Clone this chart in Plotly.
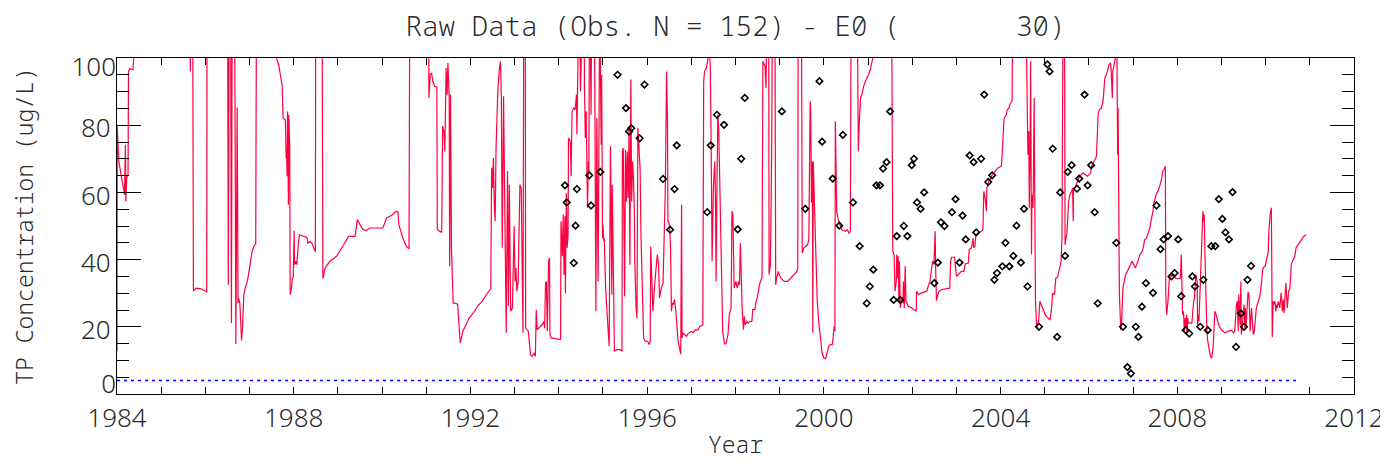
import plotly.graph_objects as go

# ---------------- data ----------------
line_year = [
    1984.00, 1984.005, 1984.04, 1984.14, 1984.17, 1984.19, 1984.20, 1984.22, 1984.25, 1984.26,
    1984.29, 1984.36, 1984.38, 1984.40, 1985.65, 1985.66, 1985.68, 1985.71, 1985.73, 1985.79,
    1985.90, 1985.97, 1986.03, 1986.04, 1986.50, 1986.52, 1986.54, 1986.57, 1986.59, 1986.61,
    1986.66, 1986.69, 1986.72, 1986.74, 1986.75, 1986.78, 1986.80, 1986.82, 1986.84, 1986.87,
    1986.91, 1986.95, 1986.97, 1987.00, 1987.02, 1987.06, 1987.10, 1987.14, 1987.16, 1987.60,
    1987.61, 1987.66, 1987.71, 1987.74, 1987.76, 1987.81, 1987.83, 1987.84, 1987.85, 1987.86,
    1987.88, 1987.89, 1987.91, 1987.92, 1987.95, 1987.97, 1987.99, 1988.01, 1988.02, 1988.05,
    1988.07, 1988.09, 1988.11, 1988.13, 1988.22, 1988.30, 1988.32, 1988.37, 1988.41, 1988.45,
    1988.49, 1988.50, 1988.64, 1988.66, 1988.71, 1988.82, 1988.97, 1989.12, 1989.24, 1989.39,
    1989.44, 1989.50, 1989.57, 1989.65, 1989.72, 1990.02, 1990.10, 1990.21, 1990.32, 1990.36,
    1990.38, 1990.47, 1990.55, 1990.61, 1990.63, 1991.05, 1991.06, 1991.09, 1991.12, 1991.15,
    1991.19, 1991.24, 1991.25, 1991.35, 1991.37, 1991.40, 1991.42, 1991.45, 1991.47, 1991.49,
    1991.52, 1991.53, 1991.55, 1991.57, 1991.61, 1991.71, 1991.77, 1991.83, 1991.90, 1991.97,
    1992.09, 1992.16, 1992.27, 1992.35, 1992.46, 1992.48, 1992.50, 1992.52, 1992.54, 1992.56,
    1992.58, 1992.60, 1992.62, 1992.65, 1992.68, 1992.70, 1992.72, 1992.75, 1992.78, 1992.81,
    1992.84, 1992.86, 1992.88, 1992.91, 1992.95, 1992.99, 1993.01, 1993.03, 1993.05, 1993.08,
    1993.12, 1993.15, 1993.19, 1993.21, 1993.24, 1993.25, 1993.31, 1993.36, 1993.40, 1993.44,
    1993.47, 1993.49, 1993.51, 1993.55, 1993.62, 1993.66, 1993.68, 1993.70, 1993.72, 1993.74,
    1993.76, 1993.77, 1993.79, 1993.80, 1993.83, 1993.92, 1994.04, 1994.05, 1994.08, 1994.10,
    1994.12, 1994.14, 1994.15, 1994.17, 1994.19, 1994.21, 1994.22, 1994.26, 1994.28, 1994.30,
    1994.34, 1994.37, 1994.40, 1994.41, 1994.43, 1994.45, 1994.47, 1994.49, 1994.51, 1994.57,
    1994.58, 1994.60, 1994.62, 1994.63, 1994.65, 1994.67, 1994.68, 1994.70, 1994.73, 1994.75,
    1994.80, 1994.83, 1994.84, 1994.86, 1994.88, 1994.89, 1994.91, 1994.93, 1994.94, 1994.96,
    1994.97, 1994.99, 1995.00, 1995.02, 1995.03, 1995.06, 1995.11, 1995.14, 1995.17, 1995.20,
    1995.21, 1995.24, 1995.26, 1995.31, 1995.39, 1995.43, 1995.44, 1995.46, 1995.49, 1995.51,
    1995.53, 1995.55, 1995.57, 1995.59, 1995.61, 1995.63, 1995.65, 1995.67, 1995.69, 1995.71,
    1995.72, 1995.75, 1995.77, 1995.79, 1995.81, 1995.84, 1995.86, 1995.89, 1995.92, 1995.95,
    1996.01, 1996.05, 1996.07, 1996.08, 1996.11, 1996.13, 1996.17, 1996.21, 1996.23, 1996.25,
    1996.26, 1996.28, 1996.32, 1996.36, 1996.40, 1996.41, 1996.43, 1996.44, 1996.46, 1996.47,
    1996.49, 1996.51, 1996.53, 1996.55, 1996.57, 1996.59, 1996.61, 1996.62, 1996.65, 1996.68,
    1996.70, 1996.74, 1996.76, 1996.78, 1996.79, 1996.81, 1996.85, 1996.89, 1996.92, 1997.00,
    1997.04, 1997.08, 1997.15, 1997.19, 1997.26, 1997.28, 1997.30, 1997.34, 1997.38, 1997.40,
    1997.41, 1997.42, 1997.43, 1997.45, 1997.47, 1997.50, 1997.53, 1997.55, 1997.56, 1997.58,
    1997.60, 1997.62, 1997.65, 1997.68, 1997.71, 1997.75, 1997.79, 1997.83, 1997.86, 1997.90,
    1997.92, 1997.94, 1997.96, 1997.97, 1998.01, 1998.04, 1998.07, 1998.09, 1998.11, 1998.13,
    1998.15, 1998.18, 1998.20, 1998.22, 1998.26, 1998.29, 1998.33, 1998.37, 1998.39, 1998.44,
    1998.46, 1998.50, 1998.54, 1998.58, 1998.60, 1998.62, 1998.65, 1998.67, 1998.69, 1998.71,
    1998.73, 1998.75, 1998.76, 1998.79, 1998.82, 1998.84, 1998.89, 1998.91, 1998.93, 1998.97,
    1998.99, 1999.03, 1999.10, 1999.18, 1999.25, 1999.33, 1999.39, 1999.41, 1999.42, 1999.49,
    1999.51, 1999.55, 1999.59, 1999.63, 1999.66, 1999.67, 1999.69, 1999.70, 1999.72, 1999.74,
    1999.75, 1999.76, 1999.78, 1999.80, 1999.82, 1999.85, 1999.89, 1999.93, 1999.96, 2000.00,
    2000.04, 2000.08, 2000.11, 2000.15, 2000.19, 2000.21, 2000.23, 2000.25, 2000.26, 2000.28,
    2000.29, 2000.32, 2000.36, 2000.41, 2000.49, 2000.53, 2000.57, 2000.60, 2000.62, 2000.75,
    2000.77, 2000.78, 2000.80, 2000.81, 2000.83, 2000.87, 2000.90, 2000.94, 2000.98, 2001.01,
    2001.05, 2001.09, 2001.11, 2001.13, 2001.52, 2001.54, 2001.55, 2001.56, 2001.59, 2001.61,
    2001.64, 2001.65, 2001.67, 2001.68, 2001.70, 2001.71, 2001.73, 2001.76, 2001.79, 2001.80,
    2001.82, 2001.84, 2001.86, 2001.91, 2001.99, 2002.06, 2002.09, 2002.10, 2002.14, 2002.21,
    2002.29, 2002.33, 2002.36, 2002.40, 2002.44, 2002.46, 2002.49, 2002.52, 2002.53, 2002.55,
    2002.58, 2002.61, 2002.67, 2002.74, 2002.85, 2002.87, 2002.89, 2002.96, 2003.00, 2003.04,
    2003.11, 2003.17, 2003.20, 2003.27, 2003.29, 2003.34, 2003.38, 2003.39, 2003.42, 2003.44,
    2003.49, 2003.57, 2003.60, 2003.62, 2003.65, 2003.68, 2003.69, 2003.73, 2003.77, 2003.79,
    2003.81, 2003.87, 2003.94, 2004.02, 2004.04, 2004.05, 2004.08, 2004.13, 2004.15, 2004.19,
    2004.22, 2004.26, 2004.28, 2004.58, 2004.59, 2004.62, 2004.64, 2004.65, 2004.67, 2004.68,
    2004.70, 2004.71, 2004.73, 2004.74, 2004.76, 2004.77, 2004.79, 2004.82, 2004.86, 2004.89,
    2004.93, 2004.97, 2005.01, 2005.07, 2005.12, 2005.15, 2005.18, 2005.22, 2005.25, 2005.29,
    2005.33, 2005.37, 2005.39, 2005.40, 2005.42, 2005.45, 2005.46, 2005.48, 2005.50, 2005.52,
    2005.54, 2005.57, 2005.61, 2005.63, 2005.645, 2005.65, 2005.68, 2005.72, 2005.75, 2005.77,
    2005.79, 2005.83, 2005.87, 2005.91, 2005.97, 2006.00, 2006.04, 2006.06, 2006.12, 2006.17,
    2006.21, 2006.24, 2006.28, 2006.32, 2006.36, 2006.39, 2006.42, 2006.45, 2006.49, 2006.50,
    2006.53, 2006.54, 2006.57, 2006.59, 2006.60, 2006.62, 2006.63, 2006.65, 2006.66, 2006.68,
    2006.69, 2006.72, 2006.74, 2006.77, 2006.80, 2006.83, 2006.87, 2006.90, 2006.94, 2006.98,
    2007.02, 2007.05, 2007.11, 2007.15, 2007.19, 2007.23, 2007.26, 2007.30, 2007.34, 2007.38,
    2007.41, 2007.45, 2007.47, 2007.52, 2007.56, 2007.59, 2007.64, 2007.67, 2007.70, 2007.73,
    2007.74, 2007.76, 2007.79, 2007.82, 2007.85, 2007.88, 2007.92, 2007.95, 2008.03, 2008.07,
    2008.09, 2008.10, 2008.12, 2008.14, 2008.16, 2008.18, 2008.19, 2008.21, 2008.22, 2008.24,
    2008.25, 2008.27, 2008.33, 2008.37, 2008.39, 2008.42, 2008.45, 2008.46, 2008.48, 2008.49,
    2008.52, 2008.55, 2008.58, 2008.60, 2008.61, 2008.63, 2008.64, 2008.66, 2008.67, 2008.69,
    2008.72, 2008.75, 2008.78, 2008.81, 2008.83, 2008.85, 2008.88, 2008.91, 2008.94, 2009.00,
    2009.08, 2009.15, 2009.19, 2009.23, 2009.27, 2009.30, 2009.34, 2009.36, 2009.38, 2009.39,
    2009.41, 2009.42, 2009.44, 2009.45, 2009.47, 2009.49, 2009.51, 2009.53, 2009.54, 2009.56,
    2009.59, 2009.60, 2009.62, 2009.65, 2009.68, 2009.69, 2009.72, 2009.74, 2009.77, 2009.79,
    2009.81, 2009.84, 2009.87, 2009.91, 2009.93, 2009.97, 2009.99, 2010.06, 2010.07, 2010.10,
    2010.13, 2010.15, 2010.17, 2010.18, 2010.21, 2010.23, 2010.25, 2010.26, 2010.29, 2010.32,
    2010.35, 2010.38, 2010.40, 2010.42, 2010.44, 2010.46, 2010.49, 2010.50, 2010.52, 2010.55,
    2010.58, 2010.61, 2010.64, 2010.66, 2010.69, 2010.71, 2010.75, 2010.79, 2010.82, 2010.86,
    2010.92, 2010.95,
]
line_tp = [
    12.7, 79.7, 69.3, 62.3, 59.3, 74.2, 57.3, 64.3, 65.3, 96.0,
    96.8, 96.5, 100, 130, 130, 96, 130, 130, 30.6, 31.5,
    31.3, 30.8, 30.4, 130, 130, 32.5, 130, 130, 21.1, 130,
    130, 14.9, 85.3, 27.1, 28.6, 27.1, 20.1, 15.9, 19.6, 29.6,
    32, 33.5, 35, 37.5, 40.5, 42.5, 44, 44.6, 130, 130,
    100, 98, 94, 91.6, 82.1, 81.6, 70.2, 72.2, 64.8, 84.1,
    56.3, 83.1, 73.2, 29.6, 31.5, 34.5, 34.7, 48.6, 38.5, 39.5,
    38.5, 44.4, 45.4, 47.4, 46.9, 46.6, 44.9, 45.4, 44.9, 43.5,
    42.3, 130, 130, 34.3, 37.5, 39.5, 41, 44.2, 46.9, 46.9,
    51.9, 50.4, 48.9, 48.7, 49.4, 49.4, 52.4, 53.1, 54.4, 54.2,
    50.4, 46.4, 43.9, 43.2, 130, 130, 88.1, 95, 95.5, 93,
    91.6, 91.3, 48.9, 48.1, 79.7, 78.2, 72.2, 97, 89.1, 98.5,
    88.1, 38, 89.1, 43.5, 27.1, 26.8, 15.2, 18.7, 20.6, 22.6,
    24.6, 26.1, 27.6, 29.4, 31.3, 67.3, 61.3, 70.2, 56.3, 51.4,
    73.2, 86.1, 90.1, 96, 99, 88.1, 43.5, 88.6, 53.4, 18.2,
    66.3, 26.1, 62.3, 24.6, 25.6, 49.9, 33.5, 37.5, 30.6, 33.5,
    62.3, 61.3, 18.2, 130, 130, 19.6, 18.7, 11.7, 11.2, 12.2,
    11.2, 25.1, 19.1, 19.6, 20.6, 21.6, 19.6, 33, 33.5, 18.7,
    35.5, 39.5, 40.5, 17.7, 16.7, 16.5, 16.2, 51.4, 41, 53.4,
    35.5, 52.9, 30, 59.8, 43.5, 47.4, 76.2, 75.2, 64.8, 84.1,
    85.1, 84.6, 89.1, 77.2, 90.1, 100, 130, 90.1, 130, 130,
    93, 76.2, 84.1, 71.2, 55.4, 69.2, 65.3, 130, 83.1, 130,
    130, 33.5, 24.6, 82.1, 60.3, 33.5, 77.2, 130, 100, 74.2,
    95, 46.4, 50.4, 45.4, 46.4, 31.5, 18.7, 14.2, 73.7, 29.6,
    62.3, 25.6, 12.7, 13.2, 13.2, 12.7, 72.2, 73.2, 29.1, 72.7,
    57.3, 72.2, 58.3, 79.2, 38.5, 93.6, 57.3, 69.2, 64.3, 54.4,
    39.5, 25.6, 22.6, 79.2, 75.2, 67.3, 47.4, 31.5, 16.7, 15.7,
    15.7, 14.7, 15.7, 43.9, 33.5, 24.6, 32.5, 39.5, 41.5, 39.5,
    37.5, 28.6, 31.5, 33, 56.3, 60.3, 83.1, 96, 81.2, 51.4,
    51.4, 49.4, 43.5, 24.6, 27.1, 26.6, 27.6, 28.1, 24.6, 19.6,
    15.7, 13.2, 11.9, 56.3, 16.7, 18.2, 17.7, 17.2, 17.9, 18.7,
    18.2, 19.1, 19.1, 20.1, 20.6, 93, 96, 97, 100, 130,
    130, 100, 97, 73.2, 39.5, 61.3, 69.2, 55.4, 33.5, 61.3,
    83.1, 79.2, 55.4, 31.5, 18.7, 14.9, 15.2, 17.7, 23.6, 25.6,
    54.4, 53.4, 41.5, 31.5, 33.5, 31.5, 33.5, 32.5, 44.9, 33.5,
    25.6, 19.1, 23.1, 20.6, 21.6, 21.1, 21.6, 21.6, 25.1, 25.1,
    27.1, 29.1, 32.5, 34, 34.5, 99, 98, 97.5, 91.1, 99,
    130, 130, 35.5, 38.5, 73.2, 130, 130, 32.5, 34.5, 36.5,
    35.5, 34.5, 33.5, 33.5, 34.5, 35.5, 36.5, 37.5, 130, 130,
    42, 43.5, 43.9, 44.4, 45.9, 69.2, 87.1, 85.6, 57, 69.2,
    18.2, 69.2, 60.3, 53.4, 41.5, 27.6, 20.6, 15.7, 12.2, 10.7,
    10.5, 12.7, 14.2, 14.7, 14.7, 16.7, 20.1, 18.7, 81.2, 63.3,
    54.4, 52.4, 50.4, 48.9, 48.4, 48.9, 47.9, 48.4, 130, 130,
    83.1, 72.2, 80.2, 85.1, 88.1, 89.6, 91.6, 93, 94, 95,
    96.5, 99, 100, 130, 130, 100, 43, 42.5, 41.5, 30.6,
    33.5, 41.5, 34.5, 41, 27.6, 39.5, 25.6, 28.1, 27.1, 33.5,
    25.6, 38, 27.6, 26.1, 25.6, 24.9, 24.6, 30.6, 29.6, 30.1,
    30.4, 30.6, 32, 33.5, 37.5, 39.5, 38.5, 48.4, 37.5, 27.8,
    29.6, 30.6, 31.1, 31.3, 31.5, 39.5, 40.7, 40.7, 35, 35.5,
    36.5, 36.5, 38.7, 39, 43, 43.5, 46.4, 43.5, 44, 47.4,
    47.9, 48.4, 48.9, 60.3, 58.3, 54.4, 61.3, 63.3, 63.8, 64.3,
    65.3, 66.3, 67.3, 67.8, 74.2, 76.7, 82.1, 83.1, 84.6, 85.1,
    86.6, 87.1, 130, 130, 99, 71.2, 78.2, 55.4, 73.2, 99,
    41.5, 59.3, 55.4, 59.3, 88.1, 55.4, 27.6, 19.6, 21.6, 27.6,
    26.1, 25.1, 23.6, 22.6, 22.1, 25.1, 30, 29.6, 34.5, 34.7,
    37.5, 39.5, 46.4, 87.1, 130, 100, 44.4, 46.4, 47.4, 52.4,
    57.3, 59.3, 60.3, 61.3, 51.4, 60.3, 61.3, 62.3, 63.3, 64.3,
    64.8, 65.3, 65.8, 65.3, 64.8, 65.3, 65.8, 67.8, 69.2, 70.7,
    83.6, 84.6, 85.1, 87.1, 94, 95, 96, 98, 98.5, 97,
    88.1, 96, 98, 99, 100, 130, 100, 71.2, 85.1, 53.4,
    29.6, 19.1, 21.6, 31.5, 34, 35.5, 36.5, 37.5, 38.5, 39.5,
    38, 37.5, 39.5, 41.5, 42, 43.5, 45.9, 46.4, 47.9, 49.4,
    51.9, 54.4, 56.8, 59.3, 60.3, 61.3, 63.8, 66.3, 66.8, 67.8,
    29.6, 23.6, 27.6, 34.5, 35.5, 35, 35.5, 34.5, 34.3, 34.5,
    41.5, 31.5, 23.6, 24.6, 18.7, 22.6, 19.6, 23.6, 18.7, 22.6,
    21.1, 21.1, 21.1, 27.6, 28.6, 35.5, 33.5, 20.6, 23.6, 21.6,
    33.5, 39.5, 54.4, 51.4, 53.4, 39.5, 31.5, 27.6, 18.7, 15.7,
    13.7, 11.2, 10.7, 13.7, 18.7, 24.6, 23.6, 22.1, 20.4, 19.1,
    18.2, 18.7, 18.9, 18.9, 18.2, 18.7, 26.6, 27.6, 18.7, 29.6,
    23.6, 20.6, 33.5, 17.7, 19.6, 23.6, 26.6, 19.6, 25.6, 20.6,
    29.6, 30.1, 30.1, 18.7, 25.6, 23.6, 17.7, 18.2, 23.6, 25.6,
    26.6, 27.6, 29.1, 33.5, 37, 38, 38, 42.5, 47.4, 53.4,
    55.4, 16.9, 27.6, 26.6, 27.6, 24.6, 26.6, 25.6, 27.6, 25.6,
    30.1, 24.6, 28.1, 24.1, 29.6, 33, 25.6, 27.6, 30.6, 31.5,
    38.5, 39.5, 40.5, 41, 43.5, 43.9, 44.9, 45.4, 45.9, 46.9,
    47.4,
]

obs_year = [
    1994.14, 1994.18, 1994.41, 1994.38, 1994.34, 1994.69, 1994.73, 1994.94, 1995.33, 1995.52,
    1995.59, 1995.64, 1995.83, 1995.94, 1996.36, 1996.62, 1996.52, 1996.67, 1997.36, 1997.44,
    1997.58, 1997.74, 1998.05, 1998.13, 1998.21, 1999.05, 1999.58, 1999.90, 1999.96, 2000.20,
    2000.43, 2000.35, 2000.66, 2000.81, 2001.12, 2001.04, 2000.97, 2001.19, 2001.27, 2001.34,
    2001.42, 2001.50, 2001.58, 2001.65, 2001.73, 2001.81, 2001.89, 2001.99, 2002.04, 2002.11,
    2002.19, 2002.27, 2002.50, 2002.58, 2002.65, 2002.73, 2002.90, 2002.98, 2003.07, 2003.14,
    2003.21, 2003.30, 2003.39, 2003.45, 2003.56, 2003.63, 2003.72, 2003.81, 2003.86, 2003.92,
    2004.04, 2004.11, 2004.20, 2004.29, 2004.36, 2004.46, 2004.53, 2004.61, 2004.87, 2005.06,
    2005.11, 2005.18, 2005.28, 2005.35, 2005.46, 2005.52, 2005.61, 2005.73, 2005.78, 2005.90,
    2005.97, 2006.05, 2006.13, 2006.20, 2006.62, 2006.77, 2006.87, 2006.95, 2007.06, 2007.12,
    2007.20, 2007.29, 2007.45, 2007.53, 2007.62, 2007.69, 2007.79, 2007.87, 2007.94, 2008.02,
    2008.09, 2008.19, 2008.27, 2008.34, 2008.40, 2008.52, 2008.59, 2008.69, 2008.77, 2008.86,
    2008.94, 2009.02, 2009.09, 2009.17, 2009.25, 2009.33, 2009.44, 2009.51, 2009.59, 2009.67,
]
obs_tp = [
    62.1, 57.0, 61.0, 50.1, 39.0, 65.1, 56.1, 66.1, 95.0, 85.1,
    78.1, 79.1, 76.1, 92.1, 64.0, 61.0, 48.9, 74.0, 54.1, 74.0,
    83.1, 80.1, 49.0, 70.0, 88.1, 84.1, 55.1, 93.1, 75.1, 64.1,
    77.1, 50.1, 57.0, 44.0, 37.0, 32.0, 27.0, 62.1, 62.1, 67.1,
    69.0, 84.1, 28.0, 47.0, 28.0, 50.0, 47.0, 68.1, 70.0, 57.0,
    55.1, 60.0, 33.0, 39.1, 51.1, 50.0, 54.1, 58.0, 39.1, 53.1,
    46.0, 71.0, 69.0, 48.1, 70.0, 89.1, 63.1, 65.1, 34.0, 36.0,
    38.0, 45.0, 38.0, 41.1, 50.1, 39.1, 55.1, 32.0, 20.0, 98.1,
    96.0, 73.0, 17.0, 60.0, 41.1, 66.1, 68.1, 61.1, 64.1, 89.1,
    62.1, 68.1, 54.1, 27.0, 45.0, 20.0, 8.0, 6.1, 20.0, 17.0,
    26.0, 33.0, 30.1, 56.1, 43.1, 46.0, 47.0, 35.0, 36.0, 46.0,
    29.1, 19.0, 18.0, 35.0, 32.0, 20.0, 34.0, 19.0, 44.0, 44.0,
    58.0, 52.1, 48.1, 46.0, 60.1, 14.0, 24.0, 20.0, 34.0, 38.1,
]

ref_year = [1984.0, 2010.7]
ref_tp = [4.0, 4.0]

title_text = "Raw Data (Obs. N = 152) - E0 (       30)"
x_ticks = [1984, 1988, 1992, 1996, 2000, 2004, 2008, 2012]
y_ticks = [0, 20, 40, 60, 80, 100]
y_tick_text = ["", "20", "40", "60", "80", ""]

TXT = "#2a2a2a"
MONO = "Noto Sans Mono, DejaVu Sans Mono, monospace"
NUM = "Noto Sans, Open Sans, sans-serif"

fig = go.Figure()
fig.add_trace(go.Scatter(
    x=line_year, y=line_tp, mode="lines",
    line=dict(color="rgb(255,0,64)", width=1.2),
    showlegend=False, hoverinfo="skip",
))
# the reference level and the observations sit on label-only overlay axes that
# match the main y axis exactly (so the end labels 0 / 100 can be nudged inside)
fig.add_trace(go.Scatter(
    x=ref_year, y=ref_tp, mode="lines", yaxis="y2",
    line=dict(color="rgb(0,0,255)", width=1.5, dash="3px,4px"),
    showlegend=False,
))
fig.add_trace(go.Scatter(
    x=obs_year, y=obs_tp, mode="markers", yaxis="y3",
    marker=dict(symbol="diamond-open", size=5, color="black", line=dict(width=1.6, color="black")),
    showlegend=False,
))

axis_common = dict(
    showgrid=False, zeroline=False, showline=True, linecolor="black", linewidth=1.3,
    mirror="allticks", ticks="inside", tickcolor="black", tickwidth=1.2,
)
num_font = dict(family=NUM, weight=300, size=26, color=TXT)
label_axis = dict(
    overlaying="y", matches="y", anchor="x", side="left", showline=False, showgrid=False,
    zeroline=False, ticks="", ticklabelstandoff=0, tickfont=num_font,
)

fig.update_layout(
    width=1388, height=466,
    margin=dict(l=109, r=35, t=50, b=80),
    paper_bgcolor="white", plot_bgcolor="white",
    title=dict(text=title_text, x=0.5, xanchor="center", xref="paper",
               y=1 - 9 / 466, yref="container", yanchor="top",
               font=dict(family=MONO, weight=300, size=27.5, color=TXT)),
    xaxis=dict(
        range=[1984, 2012], tickvals=x_ticks, ticktext=[str(v) for v in x_ticks],
        ticklen=7, ticklabelstandoff=1, tickfont=num_font,
        minor=dict(dtick=1, tick0=1984, ticklen=4, ticks="inside", tickcolor="black", tickwidth=1.2),
        title=dict(text="Year", font=dict(family=MONO, weight=300, size=23, color=TXT), standoff=2),
        **axis_common,
    ),
    yaxis=dict(
        range=[0, 100], tickvals=y_ticks, ticktext=y_tick_text,
        ticklen=24, ticklabelstandoff=0, ticklabelshift=3, tickfont=num_font,
        minor=dict(dtick=5, tick0=0, ticklen=12, ticks="inside", tickcolor="black", tickwidth=1.2),
        title=dict(text="TP Concentration (ug/L)", font=dict(family=MONO, weight=300, size=23, color=TXT), standoff=40),
        **axis_common,
    ),
    # positive ticklabelshift moves a label down the page on these vertical axes
    yaxis2=dict(range=[0, 100], tickvals=[100], ticktext=["100"], ticklabelshift=9, **label_axis),
    yaxis3=dict(range=[0, 100], tickvals=[0], ticktext=["0"], ticklabelshift=-10, **label_axis),
)

fig.write_html("out.html")
